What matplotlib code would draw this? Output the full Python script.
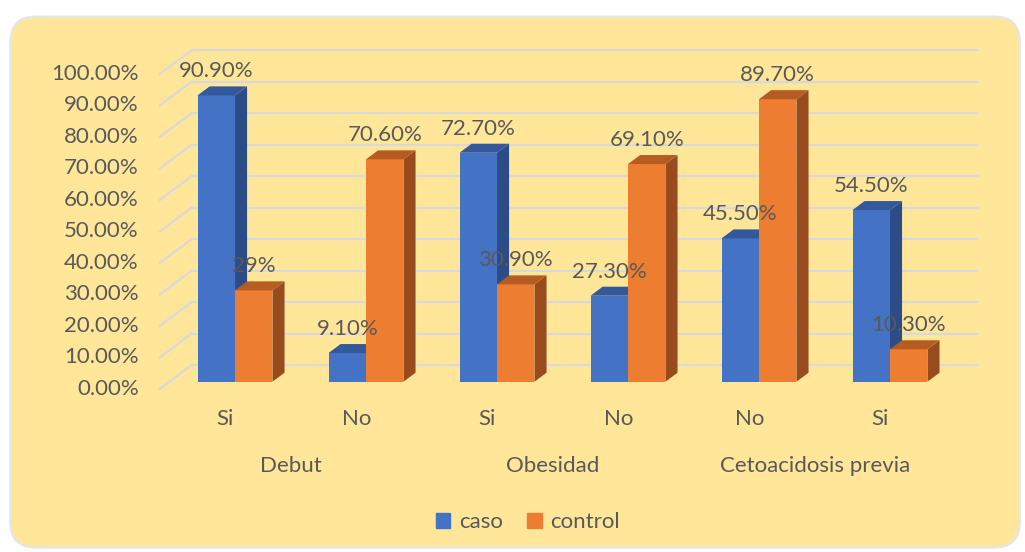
import matplotlib
matplotlib.use('Agg')
import matplotlib.pyplot as plt
from matplotlib.patches import Polygon, FancyBboxPatch, Patch

plt.rcParams['font.family'] = ['Lato', 'DejaVu Sans']

# datos
categorias = ['Si', 'No', 'Si', 'No', 'No', 'Si']
grupos = ['Debut', 'Obesidad', 'Cetoacidosis previa']
caso = [90.9, 9.1, 72.7, 27.3, 45.5, 54.5]
control = [29.0, 70.6, 30.9, 69.1, 89.7, 10.3]
ticks = [0, 10, 20, 30, 40, 50, 60, 70, 80, 90, 100]

azul = ['#4472C4', '#2C4C88', '#34589C']
naranja = ['#ED7D31', '#984B1D', '#B65B21']
texto = '#595959'
fondo = '#FFE699'
fs = 16

ancho = 0.286
# profundidad 3D (en unidades de datos)
bdx, bdy = 0.092, 2.86     # lado de la barra
pdx, pdy = 0.170, 5.3      # pared del fondo
fdx, fdy = -0.074, -2.3    # plano frontal

def etiqueta(v):
    if v == int(v):
        return f'{v:g}%'
    return f'{v:.2f}%'

def barra(ax, x0, v, colores):
    ax.bar(x0, v, width=ancho, align='edge', color=colores[0], zorder=3)
    x1 = x0 + ancho
    lado = Polygon([(x1, 0), (x1 + bdx, bdy), (x1 + bdx, v + bdy), (x1, v)],
                   closed=True, facecolor=colores[1], edgecolor='none', zorder=3)
    tapa = Polygon([(x0, v), (x1, v), (x1 + bdx, v + bdy), (x0 + bdx, v + bdy)],
                   closed=True, facecolor=colores[2], edgecolor='none', zorder=3)
    ax.add_patch(lado)
    ax.add_patch(tapa)
    ax.text(x0 + ancho / 2, v + 7.6, etiqueta(v), ha='center', va='center',
            fontsize=fs, color=texto, zorder=5)

fig = plt.figure(figsize=(10.25, 5.52), dpi=100)
fig.patch.set_facecolor('white')
marco = FancyBboxPatch((0.010, 0.008), 0.985, 0.962,
                       boxstyle='round,pad=0,rounding_size=0.025',
                       transform=fig.transFigure, facecolor=fondo,
                       edgecolor='#E1E6EF', linewidth=1.5, mutation_aspect=1.86,
                       zorder=-10)
fig.add_artist(marco)

ax = fig.add_axes([0.1015, 0.0232, 0.8946, 0.970])
ax.set_xlim(-1.0, 6.0)
ax.set_ylim(-50, 120)
ax.axis('off')

# cuadricula en la pared del fondo
n = len(categorias)
for t in ticks:
    ax.plot([-0.5 + pdx, n - 0.5 + pdx], [t + pdy, t + pdy],
            color='#D9D9D9', lw=1.6, zorder=1)
    ax.plot([-0.5 + fdx, -0.5 + pdx], [t + fdy, t + pdy],
            color='#D9D9D9', lw=1.6, zorder=1)
    ax.text(-0.5 + fdx - 0.16, t + fdy, f'{t:.2f}%', ha='right', va='center',
            fontsize=fs, color=texto)

for i in range(n):
    barra(ax, i - ancho, caso[i], azul)
    barra(ax, i, control[i], naranja)
    ax.text(i + fdx, -11.8, categorias[i], ha='center', va='center',
            fontsize=fs, color=texto)

for g, nombre in enumerate(grupos):
    ax.text(2 * g + 0.5 + fdx, -26.8, nombre, ha='center', va='center',
            fontsize=fs, color=texto)

manejadores = [Patch(color=azul[0], label='caso'), Patch(color=naranja[0], label='control')]
fig.legend(handles=manejadores, loc='center', bbox_to_anchor=(0.515, 0.054), ncol=2,
           frameon=False, fontsize=fs, labelcolor=texto, handlelength=0.65,
           handleheight=0.65, handletextpad=0.4, columnspacing=1.1)

fig.savefig('out.png', dpi=100, facecolor='white')
